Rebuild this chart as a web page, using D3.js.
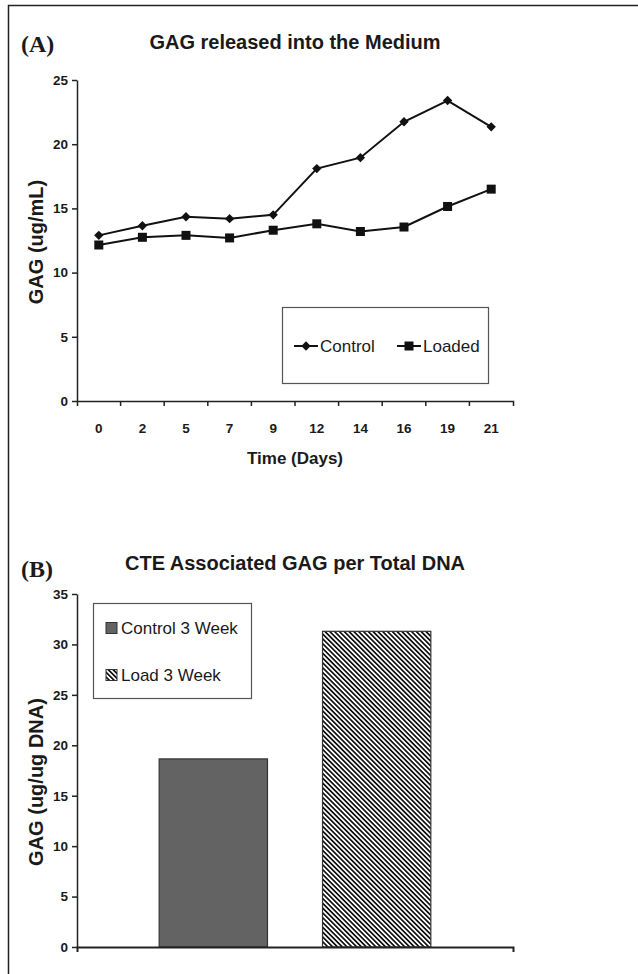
<!DOCTYPE html>
<html>
<head>
<meta charset="utf-8">
<script src="https://cdn.jsdelivr.net/npm/d3@7"></script>
<style>
  body { margin: 0; background: #fff; }
  svg { display: block; }
  text { font-family: "Liberation Sans", Arial, sans-serif; fill: #1a1a1a; }
</style>
</head>
<body>
<svg id="canvas"></svg>
<script>
// panel A data
let days = ["0", "2", "5", "7", "9", "12", "14", "16", "19", "21"];
let controlGAG = [12.9, 13.65, 14.35, 14.2, 14.5, 18.1, 18.95, 21.75, 23.4, 21.35];
let loadedGAG = [12.15, 12.75, 12.9, 12.7, 13.3, 13.8, 13.2, 13.55, 15.15, 16.5];
let yTicksA = [0, 5, 10, 15, 20, 25];

// panel B data
let barGroups = ["Control 3 Week", "Load 3 Week"];
let barValues = [18.65, 31.3];
let yTicksB = [0, 5, 10, 15, 20, 25, 30, 35];

let width = 638,
  height = 974;

let canvas = d3.select("#canvas").attr("width", width).attr("height", height);

// hatch for the loaded bar
let defs = canvas.append("defs");
let hatch = defs
  .append("pattern")
  .attr("id", "hatch")
  .attr("patternUnits", "userSpaceOnUse")
  .attr("width", 3.4)
  .attr("height", 3.4)
  .attr("patternTransform", "rotate(-45)");
hatch.append("rect").attr("width", 3.4).attr("height", 3.4).attr("fill", "#fff");
hatch.append("rect").attr("width", 1.7).attr("height", 3.4).attr("fill", "#111");

// outer frame
canvas
  .append("rect")
  .attr("x", 8.5)
  .attr("y", 5.5)
  .attr("width", 660)
  .attr("height", 1000)
  .attr("fill", "none")
  .attr("stroke", "#222")
  .attr("stroke-width", 1.5);

let left = 77,
  right = 513;

// ---------- panel A ----------
let xA = d3.scaleBand().domain(days).range([left, right]);
let yA = d3.scaleLinear().domain([0, 25]).range([401, 80]);

let drawPanelA = () => {
  canvas
    .append("text")
    .attr("x", 21)
    .attr("y", 52)
    .style("font-family", "'Liberation Serif', 'Times New Roman', serif")
    .style("font-size", "24px")
    .style("font-weight", "bold")
    .text("(A)");

  canvas
    .append("text")
    .attr("x", (left + right) / 2)
    .attr("y", 49)
    .attr("text-anchor", "middle")
    .style("font-size", "20px")
    .style("font-weight", "bold")
    .text("GAG released into the Medium");

  let yAxis = d3.axisLeft(yA).tickValues(yTicksA).tickSize(5).tickSizeOuter(0).tickPadding(4);
  let gy = canvas
    .append("g")
    .attr("transform", "translate(" + left + ",0)")
    .call(yAxis);
  styleAxis(gy);

  // labels in the middle of each band, tick marks on band edges
  let xAxis = d3.axisBottom(xA).tickSize(0).tickSizeOuter(5).tickPadding(22);
  let gx = canvas
    .append("g")
    .attr("transform", "translate(0," + yA(0) + ")")
    .call(xAxis);
  styleAxis(gx);
  gx.selectAll(".edge")
    .data(days.slice(1))
    .enter()
    .append("line")
    .attr("x1", (d) => xA(d))
    .attr("x2", (d) => xA(d))
    .attr("y1", 0)
    .attr("y2", 5)
    .attr("stroke", "#222")
    .attr("stroke-width", 1.5);

  canvas
    .append("text")
    .attr("x", (left + right) / 2)
    .attr("y", 464)
    .attr("text-anchor", "middle")
    .style("font-size", "17px")
    .style("font-weight", "bold")
    .text("Time (Days)");

  canvas
    .append("text")
    .attr("transform", "translate(36,242) rotate(-90)")
    .attr("text-anchor", "middle")
    .attr("dominant-baseline", "central")
    .style("font-size", "20px")
    .style("font-weight", "bold")
    .text("GAG (ug/mL)");

  let cx = (d, i) => xA(days[i]) + xA.bandwidth() / 2;
  let line = d3
    .line()
    .x((d, i) => cx(d, i))
    .y((d) => yA(d));

  canvas.append("path").datum(controlGAG).attr("d", line).attr("fill", "none").attr("stroke", "#111").attr("stroke-width", 2);
  canvas.append("path").datum(loadedGAG).attr("d", line).attr("fill", "none").attr("stroke", "#111").attr("stroke-width", 2);

  canvas
    .selectAll(".diamond")
    .data(controlGAG)
    .enter()
    .append("path")
    .attr("d", d3.symbol(d3.symbolDiamond2, 56))
    .attr("transform", (d, i) => "translate(" + cx(d, i) + "," + yA(d) + ")")
    .attr("fill", "#111");

  canvas
    .selectAll(".square")
    .data(loadedGAG)
    .enter()
    .append("rect")
    .attr("x", (d, i) => cx(d, i) - 4.5)
    .attr("y", (d) => yA(d) - 4.5)
    .attr("width", 9)
    .attr("height", 9)
    .attr("fill", "#111");

  // legend
  let lg = canvas.append("g");
  lg.append("rect")
    .attr("x", 282.5)
    .attr("y", 307.5)
    .attr("width", 206)
    .attr("height", 76)
    .attr("fill", "#fff")
    .attr("stroke", "#555")
    .attr("stroke-width", 1.2);
  let items = [
    { name: "Control", x: 294 },
    { name: "Loaded", x: 397 },
  ];
  items.forEach((item, i) => {
    lg.append("line")
      .attr("x1", item.x)
      .attr("x2", item.x + 24)
      .attr("y1", 346)
      .attr("y2", 346)
      .attr("stroke", "#111")
      .attr("stroke-width", 2);
    if (i == 0) {
      lg.append("path")
        .attr("d", d3.symbol(d3.symbolDiamond2, 56))
        .attr("transform", "translate(" + (item.x + 12) + ",346)")
        .attr("fill", "#111");
    } else {
      lg.append("rect")
        .attr("x", item.x + 7.5)
        .attr("y", 341.5)
        .attr("width", 9)
        .attr("height", 9)
        .attr("fill", "#111");
    }
    lg.append("text")
      .attr("x", item.x + 26)
      .attr("y", 352)
      .style("font-size", "17px")
      .text(item.name);
  });
};

// ---------- panel B ----------
let xB = d3.scaleBand().domain(barGroups).range([left, right]).paddingInner(0.337).paddingOuter(0.503);
let yB = d3.scaleLinear().domain([0, 35]).range([947, 594]);
let barFill = ["#636363", "url(#hatch)"];

let drawPanelB = () => {
  canvas
    .append("text")
    .attr("x", 21)
    .attr("y", 577)
    .style("font-family", "'Liberation Serif', 'Times New Roman', serif")
    .style("font-size", "24px")
    .style("font-weight", "bold")
    .text("(B)");

  canvas
    .append("text")
    .attr("x", (left + right) / 2)
    .attr("y", 570)
    .attr("text-anchor", "middle")
    .style("font-size", "20px")
    .style("font-weight", "bold")
    .text("CTE Associated GAG per Total DNA");

  canvas
    .selectAll(".bar")
    .data(barValues)
    .enter()
    .append("rect")
    .attr("x", (d, i) => xB(barGroups[i]))
    .attr("y", (d) => yB(d))
    .attr("width", xB.bandwidth())
    .attr("height", (d) => yB(0) - yB(d))
    .attr("fill", (d, i) => barFill[i])
    .attr("stroke", "#333")
    .attr("stroke-width", 1.2);

  let yAxis = d3.axisLeft(yB).tickValues(yTicksB).tickSize(5).tickSizeOuter(0).tickPadding(4);
  let gy = canvas
    .append("g")
    .attr("transform", "translate(" + left + ",0)")
    .call(yAxis);
  styleAxis(gy);

  let xAxis = d3.axisBottom(xB).tickValues([]).tickSizeOuter(5);
  let gx = canvas
    .append("g")
    .attr("transform", "translate(0," + yB(0) + ")")
    .call(xAxis);
  styleAxis(gx);
  gx.select(".domain").attr("stroke-width", 2);

  canvas
    .append("text")
    .attr("transform", "translate(36,782) rotate(-90)")
    .attr("text-anchor", "middle")
    .attr("dominant-baseline", "central")
    .style("font-size", "20px")
    .style("font-weight", "bold")
    .text("GAG (ug/ug DNA)");

  // legend
  let lg = canvas.append("g");
  lg.append("rect")
    .attr("x", 93.5)
    .attr("y", 603.5)
    .attr("width", 158)
    .attr("height", 95)
    .attr("fill", "#fff")
    .attr("stroke", "#555")
    .attr("stroke-width", 1.2);
  barGroups.forEach((name, i) => {
    let cy = 628 + i * 47;
    lg.append("rect")
      .attr("x", 106)
      .attr("y", cy - 5.5)
      .attr("width", 11)
      .attr("height", 11)
      .attr("fill", barFill[i])
      .attr("stroke", "#333")
      .attr("stroke-width", 1);
    lg.append("text")
      .attr("x", 121)
      .attr("y", cy + 6)
      .style("font-size", "17px")
      .text(name);
  });
};

let styleAxis = (g) => {
  g.select(".domain").attr("stroke", "#222").attr("stroke-width", 1.5);
  g.selectAll(".tick line").attr("stroke", "#222").attr("stroke-width", 1.5);
  g.selectAll("text")
    .style("font-family", "'Liberation Sans', Arial, sans-serif")
    .style("font-size", "13.5px")
    .style("font-weight", "bold")
    .attr("fill", "#2a2a2a");
};

drawPanelA();
drawPanelB();
</script>
</body>
</html>
